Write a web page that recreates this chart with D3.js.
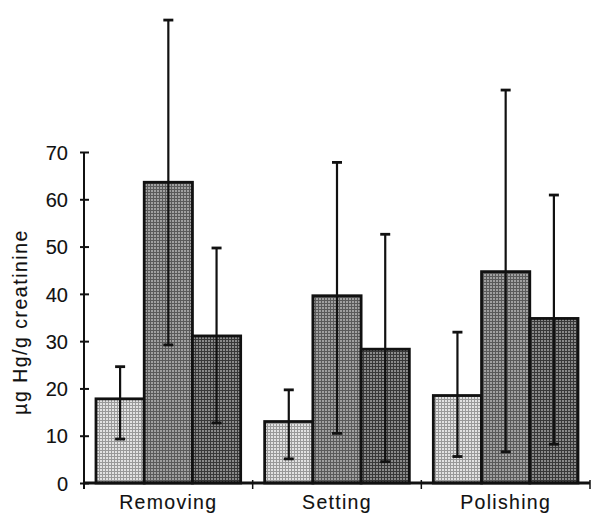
<!DOCTYPE html>
<html>
<head>
<meta charset="utf-8">
<script src="https://cdn.jsdelivr.net/npm/d3@7"></script>
<style>
body { margin: 0; background: #fff; }
text { font-family: "Liberation Sans", Arial, sans-serif; fill: #111; stroke: #111; stroke-width: 0.12px; }
</style>
</head>
<body>
<svg></svg>
<script>
let width = 591;
let height = 513;

let categories = ["Removing", "Setting", "Polishing"];
let series = ["a", "b", "c"];
let means = [[17.8, 63.6, 31.1], [13.0, 39.6, 28.3], [18.5, 44.7, 34.8]];
let errHigh = [[24.6, 97.9, 49.7], [19.7, 67.8, 52.6], [31.9, 83.1, 60.9]];
let errLow = [[9.3, 29.2, 12.7], [5.1, 10.5, 4.5], [5.6, 6.6, 8.2]];
let yTicks = [0, 10, 20, 30, 40, 50, 60, 70];

let svg = d3.select("svg").attr("width", width).attr("height", height);

// halftone-like fills
let defs = svg.append("defs");
let fills = [
    {id: "p0", bg: "#e2e2e2", line: "#999999"},
    {id: "p1", bg: "#a0a0a0", line: "#5a5a5a"},
    {id: "p2", bg: "#8a8a8a", line: "#383838"}
];
fills.forEach(f => {
    let p = defs.append("pattern")
        .attr("id", f.id)
        .attr("width", 3).attr("height", 3)
        .attr("patternUnits", "userSpaceOnUse");
    p.append("rect").attr("width", 3).attr("height", 3).attr("fill", f.bg);
    p.append("rect").attr("width", 1).attr("height", 3).attr("fill", f.line);
    p.append("rect").attr("width", 3).attr("height", 1).attr("fill", f.line);
});

let x0 = 84, x1 = 590, y0 = 483;
let scaleX = d3.scaleBand().domain(categories).range([x0, x1]);
let scaleInner = d3.scaleBand().domain(series).range([12, scaleX.bandwidth() - 12]);
let scaleY = d3.scaleLinear().domain([0, 70]).range([y0, 152]);

let rows = [];
categories.forEach((c, i) => {
    series.forEach((s, j) => {
        rows.push({cat: c, s: s, j: j, v: means[i][j], hi: errHigh[i][j], lo: errLow[i][j]});
    });
});

// bars
svg.append("g")
    .selectAll("rect")
    .data(rows)
    .enter()
    .append("rect")
    .attr("x", d => scaleX(d.cat) + scaleInner(d.s))
    .attr("width", scaleInner.bandwidth())
    .attr("y", d => scaleY(d.v))
    .attr("height", d => y0 - scaleY(d.v))
    .attr("fill", d => "url(#p" + d.j + ")")
    .attr("stroke", "#111")
    .attr("stroke-width", 2.8);

// error bars
let err = svg.append("g").selectAll("g").data(rows).enter().append("g")
    .attr("transform", d => `translate(${scaleX(d.cat) + scaleInner(d.s) + scaleInner.bandwidth() / 2},0)`);
err.append("line")
    .attr("y1", d => scaleY(d.hi)).attr("y2", d => scaleY(d.lo))
    .attr("stroke", "#111").attr("stroke-width", 2.2);
err.append("line")
    .attr("x1", -5).attr("x2", 5)
    .attr("y1", d => scaleY(d.hi)).attr("y2", d => scaleY(d.hi))
    .attr("stroke", "#111").attr("stroke-width", 2.8);
err.append("line")
    .attr("x1", -5).attr("x2", 5)
    .attr("y1", d => scaleY(d.lo)).attr("y2", d => scaleY(d.lo))
    .attr("stroke", "#111").attr("stroke-width", 2.8);

// y axis
let axisY = d3.axisLeft(scaleY).tickValues(yTicks).tickSize(4).tickPadding(12);
let gy = svg.append("g")
    .attr("transform", `translate(${x0},0)`)
    .call(axisY);
gy.select(".domain").attr("stroke", "#111").attr("stroke-width", 2)
    .attr("d", `M0,${scaleY(70)}V${y0 + 6}`);
gy.selectAll(".tick line").attr("x1", -4).attr("x2", 5).attr("stroke", "#111").attr("stroke-width", 2);
gy.selectAll(".tick text").style("font-size", "20px").attr("dy", "0.36em");

// x axis
let gx = svg.append("g").attr("transform", `translate(0,${y0})`);
gx.append("line").attr("x1", x0).attr("x2", x1).attr("stroke", "#111").attr("stroke-width", 3);
gx.selectAll(".sep")
    .data(categories)
    .enter()
    .append("line")
    .attr("x1", d => scaleX(d) + scaleX.bandwidth())
    .attr("x2", d => scaleX(d) + scaleX.bandwidth())
    .attr("y1", -3).attr("y2", 6)
    .attr("stroke", "#111").attr("stroke-width", 1.5);
gx.selectAll(".lab")
    .data(categories)
    .enter()
    .append("text")
    .attr("x", d => scaleX(d) + scaleX.bandwidth() / 2)
    .attr("y", 26)
    .attr("text-anchor", "middle")
    .style("font-size", "19.5px")
    .style("letter-spacing", "1.3px")
    .text(d => d);

// y label
svg.append("text")
    .attr("transform", "translate(27,322) rotate(-90)")
    .attr("text-anchor", "middle")
    .style("font-size", "19.5px")
    .style("letter-spacing", "1.5px")
    .text("µg Hg/g creatinine");
</script>
</body>
</html>
